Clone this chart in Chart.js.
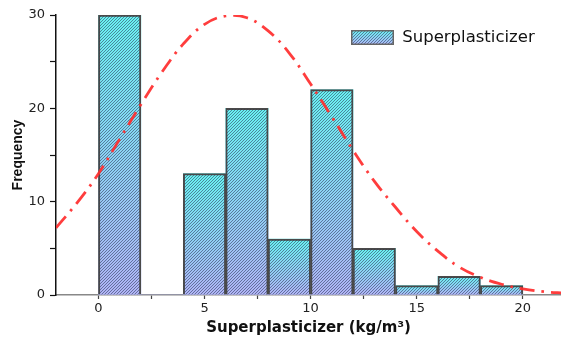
<!DOCTYPE html>
<html>
<head>
<meta charset="utf-8">
<script src="https://cdn.jsdelivr.net/npm/chart.js@4.4.1/dist/chart.umd.min.js"></script>
<style>
  html, body { margin: 0; padding: 0; background: #fff; }
  #wrap { width: 561px; height: 340px; }
</style>
</head>
<body>
<div id="wrap"><canvas id="histChart" width="561" height="340"></canvas></div>
<script>
// histogram bins (centre of each 2-wide bin) and counts
const binCentres = [1, 3, 5, 7, 9, 11, 13, 15, 17, 19];
const binCounts  = [30, 0, 13, 20, 6, 22, 5, 1, 2, 1];

// fitted normal curve, read at whole kg/m3 steps
const curveX = [-2, -1, 0, 1, 2, 3, 4, 5, 6, 7, 8, 9, 10, 11, 12, 13, 14, 15, 16, 17, 18, 19, 20, 21, 22];
const curveY = [7.2, 9.9, 13.0, 16.7, 20.4, 23.9, 26.9, 29.0, 29.9, 29.7, 28.3, 25.9, 22.6, 19.1, 15.5, 12.2, 9.4, 6.8, 4.7, 3.0, 1.9, 1.15, 0.65, 0.35, 0.2];

// axis ticks
const xMajorTicks = [0, 5, 10, 15, 20];
const xMinorTicks = [2.5, 7.5, 12.5, 17.5];
const yMajorTicks = [0, 10, 20, 30];
const yMinorTicks = [5, 15, 25];

const seriesName = 'Superplasticizer';

const TOP_COL = 'rgb(104,242,242)';
const BOT_COL = 'rgb(176,180,246)';
const HATCH_COL = 'rgba(40,50,80,0.6)';

// diagonal "/" hatch tile
function makeHatch(ctx) {
    const s = 3;
    const c = document.createElement('canvas');
    c.width = s; c.height = s;
    const g = c.getContext('2d');
    g.strokeStyle = HATCH_COL;
    g.lineWidth = 0.9;
    g.beginPath();
    g.moveTo(-1, s + 1); g.lineTo(s + 1, -1);
    g.moveTo(-1, 1); g.lineTo(1, -1);
    g.moveTo(s - 1, s + 1); g.lineTo(s + 1, s - 1);
    g.stroke();
    return ctx.createPattern(c, 'repeat');
}

// little swatch used as legend marker
function makeLegendIcon() {
    const w = 43, h = 15;
    const c = document.createElement('canvas');
    c.width = w; c.height = h;
    const g = c.getContext('2d');
    const grad = g.createLinearGradient(0, 0, 0, h);
    grad.addColorStop(0, TOP_COL);
    grad.addColorStop(1, BOT_COL);
    g.fillStyle = grad;
    g.fillRect(0, 0, w, h);
    g.fillStyle = makeHatch(g);
    g.fillRect(0, 0, w, h);
    g.strokeStyle = '#666';
    g.lineWidth = 1.5;
    g.strokeRect(0.75, 0.75, w - 1.5, h - 1.5);
    return c;
}

const canvas = document.getElementById('histChart');
const ctx = canvas.getContext('2d');
const hatch = makeHatch(ctx);
const legendIcon = makeLegendIcon();

const bins = binCentres.map((x, i) => ({ x: x, y: binCounts[i] }));
const curve = curveX.map((x, i) => ({ x: x, y: curveY[i] }));

// per-bar vertical gradient, cyan at the top fading to lavender at the base
function barGradient(c) {
    const chart = c.chart;
    if (c.type !== 'data' || !chart.chartArea) return TOP_COL;
    const ys = chart.scales.y;
    const top = ys.getPixelForValue(c.parsed.y);
    const base = ys.getPixelForValue(0);
    if (base - top < 1) return BOT_COL;
    const g = chart.ctx.createLinearGradient(0, top, 0, base);
    g.addColorStop(0, TOP_COL);
    g.addColorStop(1, BOT_COL);
    return g;
}

// move the legend into the upper right of the plot
const placeLegend = {
    id: 'placeLegend',
    afterLayout(chart) {
        const lg = chart.legend;
        if (!lg) return;
        const pad = lg.options.labels.padding;
        const fs = lg.options.labels.font.size;
        lg.left = 351 - pad;
        lg.right = 561;
        lg.top = 37.5 - fs / 2 - pad;
        lg.bottom = lg.top + 50;
        lg.width = lg.right - lg.left;
        lg.height = lg.bottom - lg.top;
    }
};

const tickFont = { family: 'DejaVu Sans', size: 13 };

new Chart(ctx, {
    type: 'bar',
    data: {
        datasets: [
            {
                type: 'line',
                label: 'Normal',
                data: curve,
                borderColor: 'rgba(255,45,45,0.92)',
                borderWidth: 2.8,
                borderDash: [15, 7, 2.5, 7],
                pointRadius: 0,
                tension: 0.4,
                fill: false,
                order: 0
            },
            {
                label: seriesName,
                data: bins,
                backgroundColor: hatch,
                borderColor: '#4a4a4a',
                borderWidth: 1.3,
                borderSkipped: 'start',
                grouped: false,
                barPercentage: 1,
                categoryPercentage: 1,
                order: 1
            },
            {
                label: seriesName + ' fill',
                data: bins,
                backgroundColor: barGradient,
                borderWidth: 0,
                grouped: false,
                barPercentage: 1,
                categoryPercentage: 1,
                order: 2
            }
        ]
    },
    options: {
        responsive: false,
        animation: false,
        devicePixelRatio: 1,
        layout: { padding: { top: 15, right: 0, bottom: 0, left: 0 }, autoPadding: false },
        plugins: {
            tooltip: { enabled: false },
            legend: {
                position: 'chartArea',
                align: 'start',
                labels: {
                    usePointStyle: true,
                    pointStyleWidth: 43,
                    padding: 4,
                    color: '#111',
                    font: { family: 'DejaVu Sans', size: 16.5 },
                    generateLabels: () => [{
                        text: seriesName,
                        pointStyle: legendIcon,
                        fillStyle: 'transparent',
                        strokeStyle: 'transparent',
                        lineWidth: 0,
                        hidden: false,
                        datasetIndex: 1,
                        fontColor: '#111'
                    }]
                }
            }
        },
        scales: {
            x: {
                type: 'linear',
                min: -2,
                max: 21.8,
                offset: false,
                afterBuildTicks: s => {
                    s.ticks = xMajorTicks.concat(xMinorTicks).sort((a, b) => a - b).map(v => ({ value: v }));
                },
                afterFit: s => { s.height = 45; },
                ticks: {
                    autoSkip: false,
                    maxRotation: 0,
                    padding: 2,
                    color: '#222',
                    font: tickFont,
                    callback: v => xMajorTicks.includes(v) ? String(v) : ''
                },
                grid: { drawOnChartArea: false, offset: false, tickLength: 4, tickColor: '#444', tickWidth: 1.2 },
                border: { color: '#888', width: 1.5 },
                title: {
                    display: true,
                    text: 'Superplasticizer (kg/m³)',
                    color: '#111',
                    font: { family: 'DejaVu Sans', size: 15, weight: 'bold' },
                    padding: { top: 0, bottom: 3 }
                }
            },
            y: {
                min: 0,
                max: 30,
                afterBuildTicks: s => {
                    s.ticks = yMajorTicks.concat(yMinorTicks).sort((a, b) => a - b).map(v => ({ value: v }));
                },
                afterFit: s => { s.width = 56; },
                ticks: {
                    autoSkip: false,
                    padding: 5,
                    color: '#222',
                    font: tickFont,
                    callback: v => yMajorTicks.includes(v) ? String(v) : ''
                },
                grid: { drawOnChartArea: false, tickLength: 6, tickColor: '#111', tickWidth: 1.2 },
                border: { color: '#111', width: 1.5 },
                title: {
                    display: true,
                    text: 'Frequency',
                    color: '#111',
                    font: { family: 'Liberation Sans', size: 14, weight: 'bold' },
                    padding: { top: 10, bottom: 0 }
                }
            }
        }
    },
    plugins: [placeLegend]
});
</script>
</body>
</html>
